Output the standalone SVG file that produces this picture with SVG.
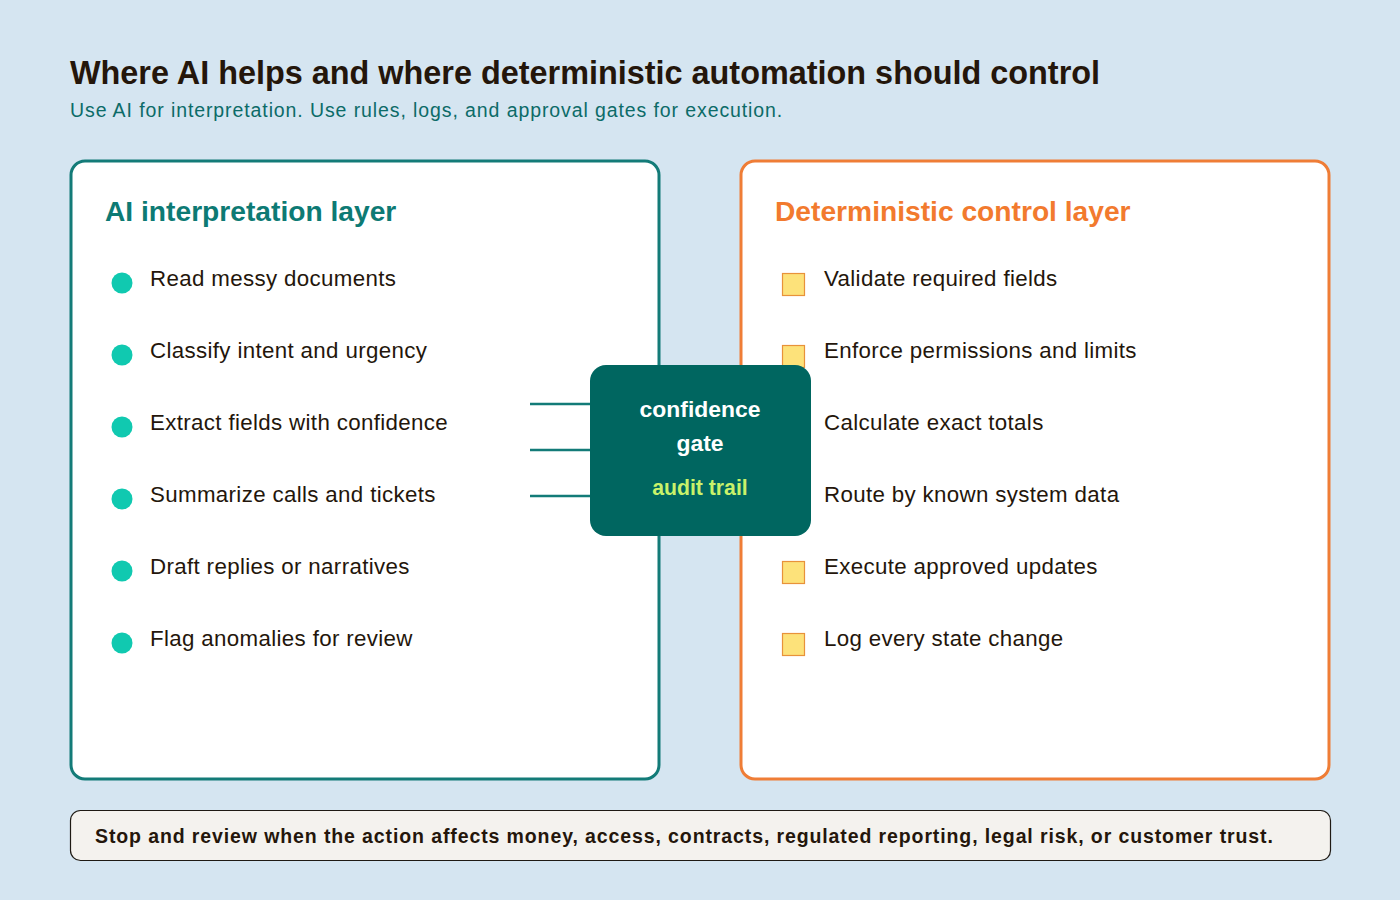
<svg xmlns="http://www.w3.org/2000/svg" width="1400" height="900" viewBox="0 0 1400 900">
<style>
text{font-family:"Liberation Sans",Arial,sans-serif}
.title{font-size:32.4px;font-weight:bold;fill:#24160b}
.sub{font-size:19.5px;letter-spacing:0.9px;fill:#0c6b68}
.panelL{fill:#fff;stroke:#137b78;stroke-width:3}
.panelR{fill:#fff;stroke:#ef7d36;stroke-width:3}
.hL{font-size:28.2px;font-weight:bold;fill:#0d7a74}
.hR{font-size:28.2px;font-weight:bold;fill:#f27a2e}
.item{font-size:22.3px;letter-spacing:0.35px;fill:#24160b}
.dot{fill:#10c9b0}
.sq{fill:#fde27a;stroke:#e8923a;stroke-width:1.2}
.conn{stroke:#137b78;stroke-width:2.5;fill:none}
.gate{fill:#006660}
.gt{font-size:22.9px;font-weight:bold;fill:#fff;text-anchor:middle}
.at{font-size:21.2px;font-weight:bold;fill:#c9f26a;text-anchor:middle}
.foot{fill:#f4f2ee;stroke:#1f1a14;stroke-width:1.2}
.ft{font-size:19.5px;letter-spacing:0.89px;font-weight:bold;fill:#24160b}
</style>
<rect width="1400" height="900" fill="#d5e5f1"/>
<text class="title" x="70" y="84">Where AI helps and where deterministic automation should control</text>
<text class="sub" x="70" y="117">Use AI for interpretation. Use rules, logs, and approval gates for execution.</text>

<g id="ai-layer">
<rect class="panelL" x="71" y="161" width="588" height="618" rx="14"/>
<text class="hL" x="105" y="221">AI interpretation layer</text>
<circle class="dot" cx="122" cy="283" r="10.5"/><text class="item" x="150" y="286">Read messy documents</text>
<circle class="dot" cx="122" cy="355" r="10.5"/><text class="item" x="150" y="358">Classify intent and urgency</text>
<circle class="dot" cx="122" cy="427" r="10.5"/><text class="item" x="150" y="430">Extract fields with confidence</text>
<circle class="dot" cx="122" cy="499" r="10.5"/><text class="item" x="150" y="502">Summarize calls and tickets</text>
<circle class="dot" cx="122" cy="571" r="10.5"/><text class="item" x="150" y="574">Draft replies or narratives</text>
<circle class="dot" cx="122" cy="643" r="10.5"/><text class="item" x="150" y="646">Flag anomalies for review</text>
</g>

<g id="control-layer">
<rect class="panelR" x="741" y="161" width="588" height="618" rx="14"/>
<text class="hR" x="775" y="221">Deterministic control layer</text>
<rect class="sq" x="782.5" y="273.5" width="22" height="22"/><text class="item" x="824" y="286">Validate required fields</text>
<rect class="sq" x="782.5" y="345.5" width="22" height="22"/><text class="item" x="824" y="358">Enforce permissions and limits</text>
<rect class="sq" x="782.5" y="417.5" width="22" height="22"/><text class="item" x="824" y="430">Calculate exact totals</text>
<rect class="sq" x="782.5" y="489.5" width="22" height="22"/><text class="item" x="824" y="502">Route by known system data</text>
<rect class="sq" x="782.5" y="561.5" width="22" height="22"/><text class="item" x="824" y="574">Execute approved updates</text>
<rect class="sq" x="782.5" y="633.5" width="22" height="22"/><text class="item" x="824" y="646">Log every state change</text>
</g>

<g id="connectors">
<line class="conn" x1="530" y1="404" x2="592" y2="404"/>
<line class="conn" x1="530" y1="450" x2="592" y2="450"/>
<line class="conn" x1="530" y1="496" x2="592" y2="496"/>
</g>

<g id="gate">
<rect class="gate" x="590" y="365" width="221" height="171" rx="16"/>
<text class="gt" x="700" y="417">confidence</text>
<text class="gt" x="700" y="451">gate</text>
<text class="at" x="700" y="495">audit trail</text>
</g>

<g id="footer">
<rect class="foot" x="70.5" y="810.5" width="1260" height="50" rx="10"/>
<text class="ft" x="95" y="843">Stop and review when the action affects money, access, contracts, regulated reporting, legal risk, or customer trust.</text>
</g>
</svg>
